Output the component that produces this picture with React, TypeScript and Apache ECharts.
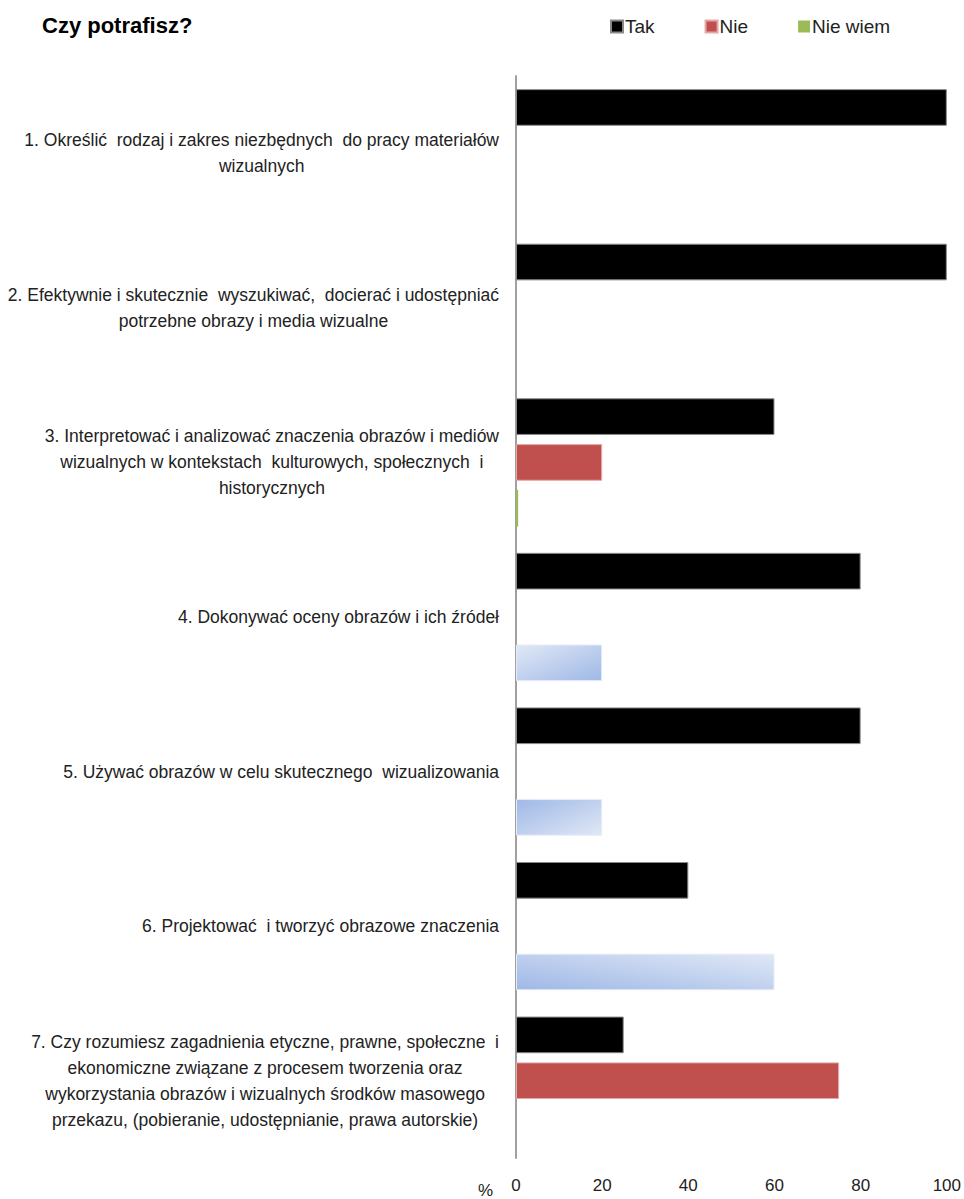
import React, { useEffect, useRef } from "react";
import * as echarts from "echarts";

const categories: string[][] = [
  ["1. Określić  rodzaj i zakres niezbędnych  do pracy materiałów", "wizualnych"],
  ["2. Efektywnie i skutecznie  wyszukiwać,  docierać i udostępniać", "potrzebne obrazy i media wizualne"],
  ["3. Interpretować i analizować znaczenia obrazów i mediów", "wizualnych w kontekstach  kulturowych, społecznych  i", "historycznych"],
  ["4. Dokonywać oceny obrazów i ich źródeł"],
  ["5. Używać obrazów w celu skutecznego  wizualizowania"],
  ["6. Projektować  i tworzyć obrazowe znaczenia"],
  [
    "7. Czy rozumiesz zagadnienia etyczne, prawne, społeczne  i",
    "ekonomiczne związane z procesem tworzenia oraz",
    "wykorzystania obrazów i wizualnych środków masowego",
    "przekazu, (pobieranie, udostępnianie, prawa autorskie)",
  ],
];
const seriesNames = ["Tak", "Nie", "Nie wiem"];
const takValues = [100, 100, 60, 80, 80, 40, 25];
const nieValues = [0, 0, 20, 0, 0, 0, 75];
const nieWiemValues = [0, 0, 0.5, 20, 20, 60, 0];
const xTicks = { min: 0, max: 100, interval: 20 };

const FONT = "'Liberation Sans', Arial, sans-serif";
const DARK_BLUE = "#9fb8e6";
const LIGHT_BLUE = "#e0e8f6";

function blueGradient(x: number, y: number, x2: number, y2: number) {
  return new echarts.graphic.LinearGradient(x, y, x2, y2, [
    { offset: 0, color: DARK_BLUE },
    { offset: 1, color: LIGHT_BLUE },
  ]);
}

function noBorderAtZero(values: number[]) {
  return values.map((v) => (v === 0 ? { value: v, itemStyle: { borderWidth: 0, opacity: 0 } } : v));
}

export default function App() {
  const ref = useRef<HTMLDivElement>(null);
  useEffect(() => {
    document.body.style.margin = "0";
    if (!ref.current) return;
    const chart = echarts.init(ref.current, undefined, { renderer: "svg" });
    const gradients: Record<number, any> = {
      3: blueGradient(1, 1, 0, 0),
      4: blueGradient(0, 0, 1, 1),
      5: blueGradient(0, 1, 1, 0),
    };
    const nieWiemData = nieWiemValues.map((v, i) =>
      gradients[i]
        ? { value: v, itemStyle: { color: gradients[i], borderColor: "#e6ecf7", borderWidth: 1 } }
        : v === 0
        ? { value: v, itemStyle: { opacity: 0 } }
        : v
    );
    chart.setOption({
      animation: false,
      backgroundColor: "#ffffff",
      title: {
        text: "Czy potrafisz?",
        left: 37,
        top: 9,
        textStyle: { fontFamily: FONT, fontSize: 22, fontWeight: "bold", color: "#000" },
      },
      legend: {
        data: seriesNames,
        left: 605,
        top: 12,
        itemWidth: 12,
        itemHeight: 12,
        itemGap: 50,
        icon: "rect",
        textStyle: { fontFamily: FONT, fontSize: 19, color: "#222", padding: [0, 0, 0, -3] },
      },
      grid: { left: 516, right: 17, top: 76, bottom: 39, containLabel: false },
      xAxis: {
        type: "value",
        min: xTicks.min,
        max: xTicks.max,
        interval: xTicks.interval,
        name: "%",
        nameLocation: "start",
        nameGap: 23,
        nameTextStyle: {
          fontFamily: FONT,
          fontSize: 17,
          color: "#222",
          verticalAlign: "top",
          padding: [24, 0, 0, 0],
        },
        axisLine: { show: false },
        axisTick: { show: false },
        splitLine: { show: false },
        axisLabel: { fontFamily: FONT, fontSize: 17, color: "#222", margin: 19 },
      },
      yAxis: {
        type: "category",
        inverse: true,
        data: categories.map((c) => c.join("\n")),
        axisLine: { show: true, lineStyle: { color: "#a0a0a0", width: 2 } },
        axisTick: { show: false },
        axisLabel: {
          margin: 17,
          interval: 0,
          formatter: (val: string) =>
            val
              .split("\n")
              .map((l) => `{c|${l}}`)
              .join("\n"),
          rich: {
            c: { align: "center", fontFamily: FONT, fontSize: 17.5, lineHeight: 26, color: "#222" },
          },
        },
      },
      series: [
        {
          name: seriesNames[0],
          type: "bar",
          data: noBorderAtZero(takValues),
          barCategoryGap: "17%",
          barGap: "25%",
          itemStyle: { color: "#000000", borderColor: "#8a8a8a", borderWidth: 1 },
        },
        {
          name: seriesNames[1],
          type: "bar",
          data: noBorderAtZero(nieValues),
          barCategoryGap: "17%",
          barGap: "25%",
          itemStyle: { color: "#c0504d", borderColor: "#e3a9a7", borderWidth: 1 },
        },
        {
          name: seriesNames[2],
          type: "bar",
          data: nieWiemData,
          barCategoryGap: "17%",
          barGap: "25%",
          itemStyle: { color: "#9bbb59" },
        },
      ],
    });
    return () => chart.dispose();
  }, []);
  return <div ref={ref} style={{ width: 964, height: 1199 }} />;
}
